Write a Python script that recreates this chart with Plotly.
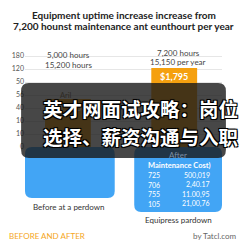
import plotly.graph_objects as go

# ---- data ----
categories = ["Before", "After"]
bar_values = [3.7, 6.08]            # in axis-tick units
bar_labels = ["$1,795", "$1,795"]
tick_positions = [0, 1, 2, 3, 4, 5, 6, 7]
tick_labels = ["0", "10", "10", "40", "56", "50", "120", "180"]
top_lines_before = ["5,000 hours", "15,200 hours"]
top_lines_after = ["7,200 hours", "15,150 per year"]
table_codes = ["725", "706", "755", "105"]
table_costs = ["500,019", "2,40.17", "11.00,95", "21,00,76"]
title_lines = ["Equipment uptime increase increase from",
               "7,200 hounst maintenance ant eunthourt per year"]
overlay_lines = ["英才网面试攻略：岗位", "选择、薪资沟通与入职"]

W = H = 243
L, R, T, B = 20, 222, 45, 147  # plot area in px


def px(x):
    return (x - L) / (R - L)


def py(y):
    return (B - y) / (B - T)


def rrect(x0, y0, x1, y1, r):
    X0, X1 = px(x0), px(x1)
    Y0, Y1 = py(y0), py(y1)
    rx = r / (R - L)
    ry = r / (B - T)
    return (f"M {X0+rx},{Y0} L {X1-rx},{Y0} Q {X1},{Y0} {X1},{Y0-ry} "
            f"L {X1},{Y1+ry} Q {X1},{Y1} {X1-rx},{Y1} L {X0+rx},{Y1} "
            f"Q {X0},{Y1} {X0},{Y1+ry} L {X0},{Y0-ry} Q {X0},{Y0} {X0+rx},{Y0} Z")


ORANGE = "#F5A00F"
BLUE = "#42A5F5"
FONT = "Lato"

fig = go.Figure()
fig.add_trace(go.Bar(
    x=categories, y=bar_values, marker_color=ORANGE, marker_line_width=0,
    text=bar_labels, textposition="inside", insidetextanchor="end",
    textfont=dict(color="white", size=9, family=FONT, weight="bold"),
    textangle=0, hoverinfo="skip"))

# x range so that category centers land at ~64 and ~173 px
unit = 109.0
x_lo = -((64 - L) / unit)
x_hi = 1 + (R - 173) / unit

shapes = [
    dict(type="path", path=rrect(20, 147, 112, 198, 7), xref="paper", yref="paper",
         fillcolor=BLUE, line_width=0, layer="above"),
    dict(type="path", path=rrect(132, 147, 222, 212, 7), xref="paper", yref="paper",
         fillcolor=BLUE, line_width=0, layer="above"),
    dict(type="path", path=rrect(16, 83, 226, 158, 8), xref="paper", yref="paper",
         fillcolor="rgba(25,25,25,0.8)", line_width=0, layer="above"),
]

ann = []


def add(text, x, y, size, color, xanchor="center", weight="normal", family=FONT, shadow=None):
    f = dict(size=size, color=color, family=family, weight=weight)
    if shadow:
        f["shadow"] = shadow
    ann.append(dict(text=text, x=px(x), y=py(y), xref="paper", yref="paper",
                    xanchor=xanchor, yanchor="middle", showarrow=False, font=f))


add(title_lines[0], 121.5, 15, 10, "#222", weight="bold")
add(title_lines[1], 121.5, 26.5, 10, "#222", weight="bold")
add(top_lines_before[0], 65, 55, 8, "#444")
add(top_lines_before[1], 65, 64.5, 8, "#444")
add(top_lines_after[0], 177, 53, 8, "#444")
add(top_lines_after[1], 177, 62.5, 8, "#444")
add("Aril", 62, 95.5, 7.5, "#2e2a24")
add("After", 177, 155, 8, "#7d8fa3")
add("Maintenance Cost)", 144, 165, 7.5, "white", xanchor="left", weight="bold")
for i, (c, v) in enumerate(zip(table_codes, table_costs)):
    yy = 175 + i * 9.5
    add(c, 144, yy, 7, "white", xanchor="left")
    add(v, 212, yy, 7, "white", xanchor="right")
add("Before at a perdown", 65, 206.5, 8, "#333")
add("Equipress pardown", 177, 219.5, 8, "#333")
add("BEFORE AND AFTER", 2, 236, 8, "#F5A623", xanchor="left")
add("by Tatcl.com", 239, 236, 8, "#666", xanchor="right")

sh = "-1px -1px 0 #000, 1px -1px 0 #000, -1px 1px 0 #000, 1px 1px 0 #000, 0 0 2px #000"
add(overlay_lines[0], 36, 108, 19.5, "white", xanchor="left", weight="bold",
    family="Noto Sans CJK SC", shadow=sh)
add(overlay_lines[1], 36, 136, 19.5, "white", xanchor="left", weight="bold",
    family="Noto Sans CJK SC", shadow=sh)

fig.update_layout(
    width=W, height=H, margin=dict(l=L, r=W - R, t=T, b=H - B, pad=0),
    paper_bgcolor="white", plot_bgcolor="white", showlegend=False,
    bargap=1 - 47 / unit,
    xaxis=dict(range=[x_lo, x_hi], showticklabels=False, showgrid=False,
               zeroline=False, showline=False, ticks=""),
    yaxis=dict(range=[0, (B - T) / 13.0], tickvals=tick_positions, ticktext=tick_labels,
               showgrid=True, gridcolor="#e6e6e6", gridwidth=1, zeroline=False,
               showline=False, ticks="", tickfont=dict(size=7, color="#555", family=FONT)),
    shapes=shapes, annotations=ann,
)

fig.write_html("out.html")
